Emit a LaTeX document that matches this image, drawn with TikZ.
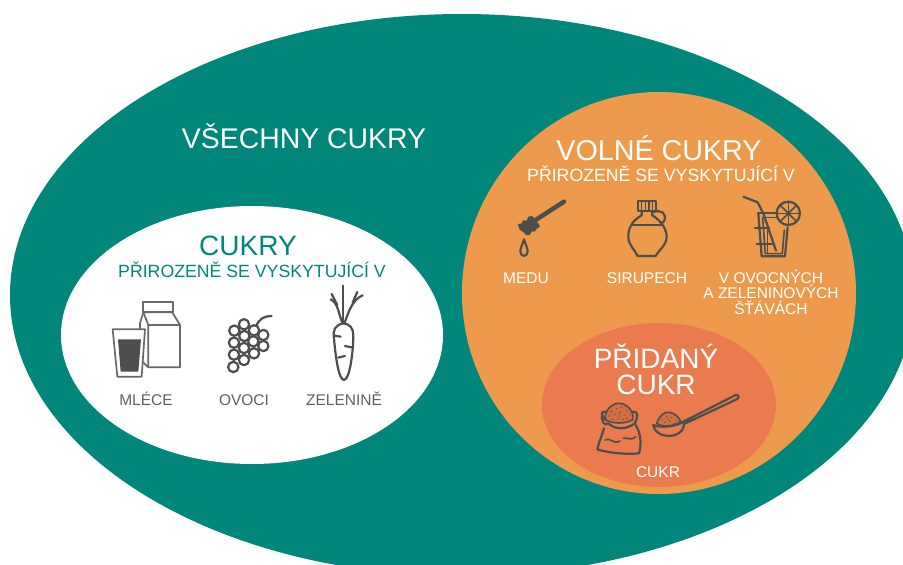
\documentclass[tikz,border=0pt]{standalone}
\usepackage{fontspec}
\setmainfont{Liberation Sans}
\usetikzlibrary{shapes.geometric}
\definecolor{teal1}{HTML}{00867A}
\definecolor{orange1}{HTML}{EE9A4D}
\definecolor{coral1}{HTML}{E97B4E}
\definecolor{ink}{HTML}{4D4F4D}
\definecolor{grain}{HTML}{C9683F}
\newcommand{\fs}[1]{\fontsize{#1}{#1}\selectfont}
\tikzset{
  region/.style={ellipse,inner sep=0pt,draw=none},
  big/.style={inner sep=0pt,anchor=base,font=\fs{28},text=white},
  sub/.style={inner sep=0pt,anchor=base,font=\fs{17.7}},
  lab/.style={inner sep=0pt,anchor=base,font=\fs{15.5},text=white},
  labdark/.style={inner sep=0pt,anchor=base,font=\fs{15.5},text=ink!90},
  icon/.style={draw=ink,line width=2.2pt,line join=round,line cap=round},
  thinicon/.style={icon,line width=1.6pt},
  milk/.style={icon,draw=ink!85,line width=1.7pt},
  zoomA/.style={shift={(90,270)},x=0.3333pt,y=-0.3333pt},
  zoomB/.style={shift={(490,180)},x=0.3333pt,y=-0.3333pt},
  zoomC/.style={shift={(570,380)},x=0.3333pt,y=-0.3333pt},
}
\begin{document}
\begin{tikzpicture}[x=1pt,y=-1pt]
\useasboundingbox (0,0) rectangle (903,565);
\fill[white] (0,0) rectangle (903,565);
\clip (0,0) rectangle (903,565);
% regions
\node[region,fill=teal1,minimum width=904pt,minimum height=562pt] (all) at (462,295) {};
\node[region,fill=white,minimum width=382pt,minimum height=258pt] (natural) at (252,335) {};
\node[region,fill=orange1,minimum width=394pt,minimum height=402pt] (free) at (659,293) {};
\node[region,fill=coral1,minimum width=234pt,minimum height=164pt] (added) at (659,405) {};
% titles
\node[big,font=\fs{28.4}] (tall) at (304,148) {VŠECHNY CUKRY};
\node[big,font=\fs{28.7}] (tfree) at (659,160) {VOLNÉ CUKRY};
\node[sub,text=white] (sfree) at (661,181) {PŘIROZENĚ SE VYSKYTUJÍCÍ V};
\node[big,text=teal1] (tnat) at (248,255) {CUKRY};
\node[sub,text=teal1] (snat) at (252,277) {PŘIROZENĚ SE VYSKYTUJÍCÍ V};
\node[inner sep=0pt,text=white,align=center,font={\fontsize{28}{26}\selectfont}] (tadd) at (656,369) {PŘIDANÝ\\CUKR};
% labels
\node[labdark] (l1) at (146,405) {MLÉCE};
\node[labdark] (l2) at (244,405) {OVOCI};
\node[labdark] (l3) at (344,405) {ZELENINĚ};
\node[lab] (l4) at (526,283) {MEDU};
\node[lab] (l5) at (647,283) {SIRUPECH};
\node[inner sep=0pt,text=white,align=center,font={\fontsize{15.5}{15.5}\selectfont}] (l6) at (771,292) {V OVOCNÝCH\\A ZELENINOVÝCH\\ŠŤÁVÁCH};
\node[lab] (l7) at (658,477) {CUKR};
% milk
\begin{scope}[zoomA]
\draw[milk,fill=white] (160,97) rectangle (248,127);
\draw[milk,fill=white] (160,127) -- (247,127) -- (270,165) -- (270,292) -- (175,292) -- (175,165) -- cycle;
\draw[milk] (160,127) -- (150,160) -- (150,268) -- (175,292);
\draw[milk] (175,165) -- (270,165);
\draw[milk,fill=white] (68,178) -- (165,178) -- (155,320) -- (82,320) -- cycle;
\fill[ink] (84,208) -- (153,208) -- (145,305) -- (92,305) -- cycle;
% grapes
\draw[icon] (498,172) .. controls (505,145) and (525,138) .. (545,138);
\foreach \x/\y in {433/182,462/163,492/181,520/195,463/198,432/218,490/214,520/228,462/234,432/254,492/250,462/270,430/291}
  \draw[icon,fill=white] (\x,\y) circle (15.5);
% carrot
\draw[icon] (760,160) .. controls (735,165) and (728,180) .. (732,205) .. controls (736,250) and (745,330) .. (762,330) .. controls (780,330) and (790,240) .. (790,195) .. controls (790,175) and (780,162) .. (760,160) -- cycle;
\draw[icon] (760,47) -- (760,158);
\draw[icon] (722,88) .. controls (745,100) and (745,130) .. (757,158);
\draw[icon] (725,72) -- (742,105);
\draw[icon] (818,76) .. controls (785,90) and (775,130) .. (764,158);
\draw[icon] (802,66) -- (788,98);
\draw[icon] (733,197) -- (752,200) (765,228) -- (785,232) (745,263) -- (765,258);
\end{scope}
% honey dipper, bottle, drink
\begin{scope}[zoomB]
\draw[draw=ink,line width=4.5pt,line cap=round] (222,65) -- (140,118);
\fill[ink,rounded corners=1pt] (83,132) -- (97,130) -- (97,121) -- (112,122) -- (112,112) -- (125,107) -- (137,118) -- (151,140) -- (139,147) -- (134,156) -- (124,153) -- (122,164) -- (108,166) -- (101,156) -- (89,150) -- cycle;
\draw[icon] (102,178) .. controls (97,195) and (91,205) .. (91,214) .. controls (91,232) and (113,232) .. (113,214) .. controls (113,205) and (107,195) .. (102,178) -- cycle;
% bottle
\draw[icon] (445,63) rectangle (497,92);
\draw[thinicon] (455,65) -- (455,90) (466,65) -- (466,90) (477,65) -- (477,90) (488,65) -- (488,90);
\draw[icon] (455,92) -- (455,106) .. controls (430,120) and (415,140) .. (415,170) .. controls (415,195) and (435,210) .. (443,228) -- (497,228) .. controls (507,210) and (530,195) .. (530,170) .. controls (530,145) and (510,120) .. (487,106) -- (487,92);
\draw[icon] (425,135) -- (515,135);
\draw[icon] (490,96) .. controls (515,88) and (530,100) .. (523,122) .. controls (521,127) and (517,130) .. (512,127);
% drink
\draw[icon] (760,50) -- (803,67) -- (820,100) -- (858,212);
\draw[icon] (805,100) -- (815,229) -- (885,229) -- (893,142);
\draw[icon] (805,100) -- (862,100);
\draw[thinicon] (822,112) -- (866,112);
\draw[thinicon] (818,112) -- (826,221) -- (877,221) -- (883,150);
\draw[icon] (795,143) -- (838,143);
\draw[icon] (800,193) -- (852,193);
\draw[thinicon] (832,145) -- (832,218);
\draw[icon,fill=orange1] (895,100) circle (35);
\foreach \a in {0,45,...,315}
  \draw[thinicon] (895,100) -- ++({33*cos(\a)},{33*sin(\a)});
\end{scope}
% sugar
\begin{scope}[zoomC]
\draw[thinicon,fill=grain!70!coral1] (107,120) .. controls (100,95) and (125,68) .. (150,70) .. controls (175,72) and (195,100) .. (187,120) .. controls (165,132) and (130,132) .. (107,120) -- cycle;
\foreach \x/\y in {125/95,140/85,155/82,170/92,118/108,135/104,150/98,165/105,180/105,128/118,145/115,160/118,172/116,150/108}
  \fill[ink] (\x,\y) circle (2.2);
\draw[icon] (107,120) .. controls (90,100) and (92,95) .. (107,95);
\draw[icon] (187,95) .. controls (205,92) and (205,110) .. (195,128);
\draw[icon] (97,102) .. controls (92,125) and (105,140) .. (115,130) .. controls (135,150) and (170,150) .. (197,128);
\draw[icon] (102,145) .. controls (95,170) and (85,190) .. (82,208) .. controls (100,215) and (160,225) .. (207,220) .. controls (215,195) and (213,160) .. (197,135);
\draw[thinicon] (105,180) .. controls (120,170) and (130,195) .. (150,183);
\draw[thinicon] (160,175) .. controls (175,170) and (180,185) .. (197,170);
% spoon
\draw[icon] (250,135) .. controls (255,165) and (290,172) .. (315,165) .. controls (335,158) and (342,145) .. (342,132) -- (502,57) .. controls (510,50) and (505,42) .. (495,46) -- (340,125) .. controls (320,140) and (270,145) .. (250,135) -- cycle;
\draw[thinicon,fill=grain!70!coral1] (260,130) .. controls (265,110) and (285,92) .. (300,97) .. controls (315,100) and (330,115) .. (332,125) .. controls (310,140) and (275,142) .. (260,130) -- cycle;
\foreach \x/\y in {275/120,290/110,305/112,318/122,285/127,300/124,312/130,295/117}
  \fill[ink] (\x,\y) circle (2.2);
\end{scope}
\end{tikzpicture}
\end{document}
